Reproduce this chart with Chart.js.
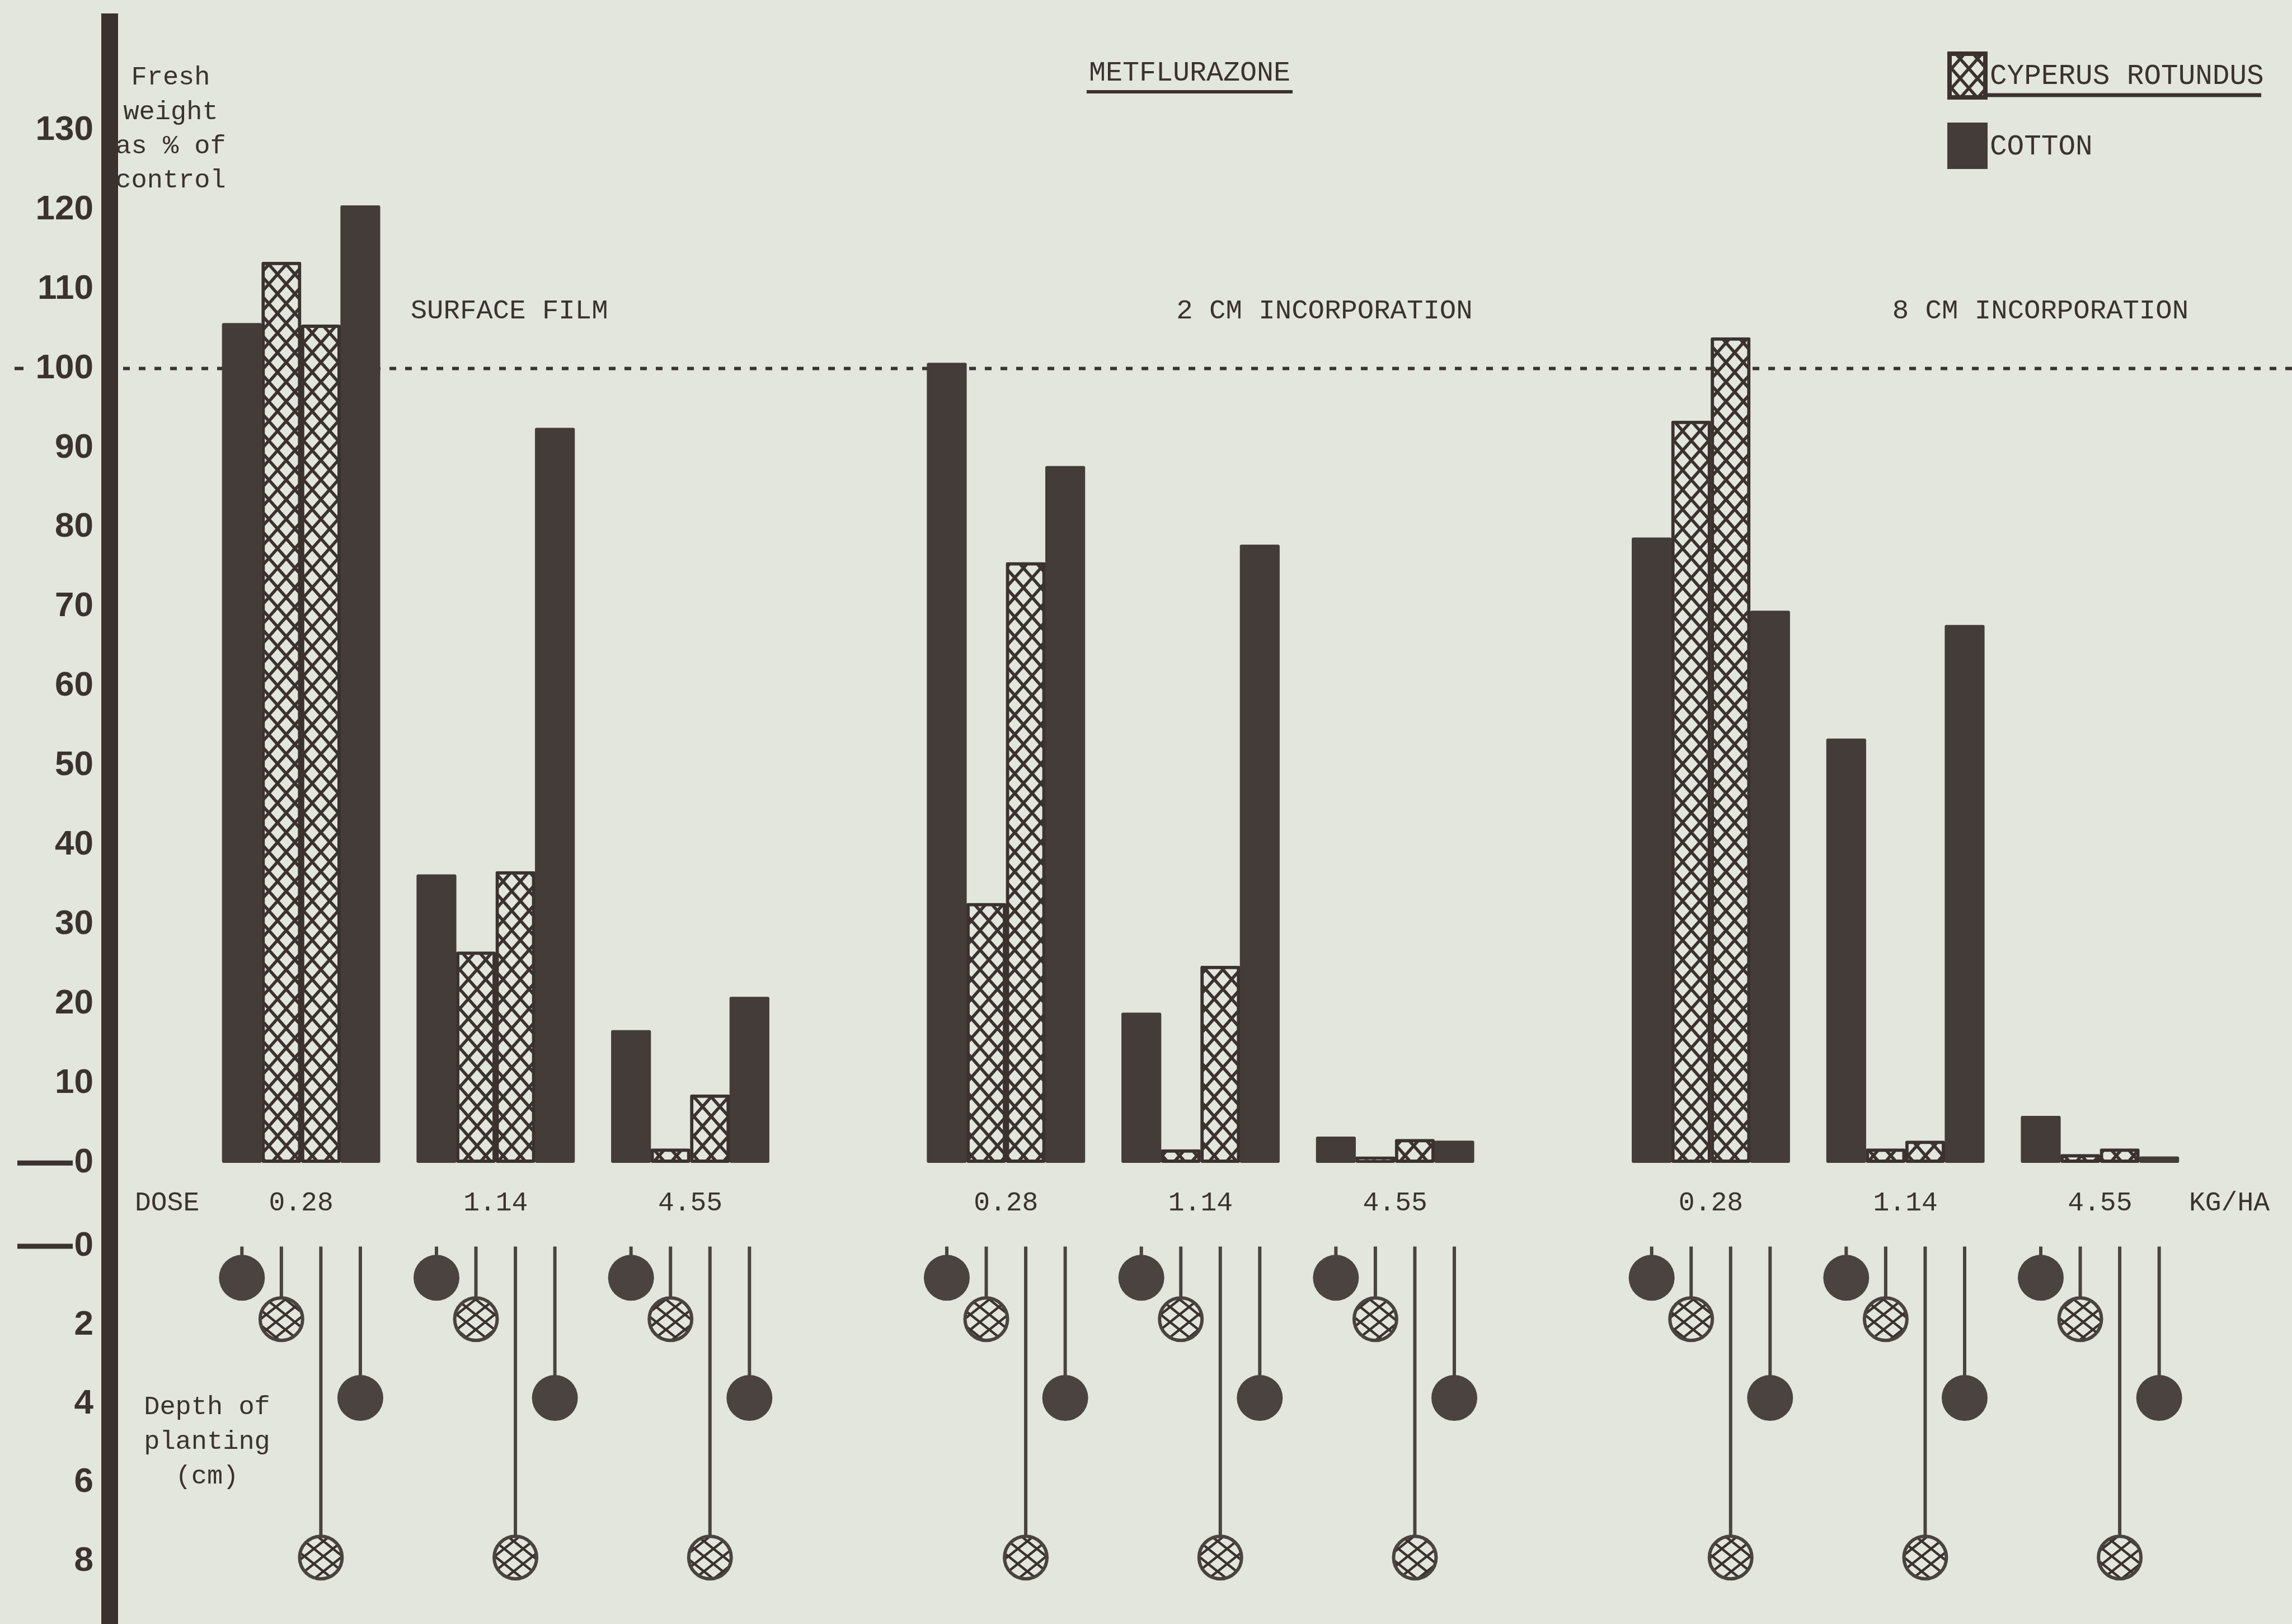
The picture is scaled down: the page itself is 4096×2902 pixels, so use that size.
<!DOCTYPE html>
<html><head><meta charset="utf-8">
<script src="https://cdn.jsdelivr.net/npm/chart.js@4.4.1/dist/chart.umd.min.js"></script>
<style>
html,body{margin:0;padding:0;background:#e2e6dc;overflow:hidden;}
canvas{display:block;}
</style></head><body>
<canvas id="c" width="4096" height="2902"></canvas>
<script>
// ---------------- data ----------------
const placements = ['SURFACE FILM', '2 CM INCORPORATION', '8 CM INCORPORATION'];
const doses = ['0.28', '1.14', '4.55'];          // kg/ha, repeated for each placement
const seriesNames = ['COTTON', 'CYPERUS ROTUNDUS', 'CYPERUS ROTUNDUS', 'COTTON'];
// fresh weight as % of control, 9 groups = 3 placements x 3 doses
const cottonShallow  = [105.7, 36.3, 16.7, 100.7, 18.9, 3.3, 78.7, 53.4, 5.9];
const cyperusShallow = [113.4, 26.6,  1.8,  32.7,  1.7, 0.8, 93.4,  1.8, 1.1];
const cyperusDeep    = [105.5, 36.7,  8.6,  75.6, 24.8, 3.0, 103.9, 2.8, 1.8];
const cottonDeep     = [120.5, 92.5, 20.9,  87.7, 77.8, 2.8, 69.5, 67.7, 0.8];
const plantingDepth  = [0.8, 1.85, 7.9, 3.85];   // cm, one per series
const weightTicks = [0, 10, 20, 30, 40, 50, 60, 70, 80, 90, 100, 110, 120, 130];
const depthTicks  = [0, 2, 4, 6, 8];
const controlLevel = 100;

// ---------------- style / layout ----------------
const PAPER = '#e2e6dc', INK = '#3b3230', DARK = '#443c38', STEM = '#4a4340';
const MONO = '"Liberation Mono", "DejaVu Sans Mono", monospace';
const PLACEMENT_STRIDE = 3.623, BAR_W = 0.2029;
const groupX = i => Math.floor(i / 3) * PLACEMENT_STRIDE + (i % 3);
const seriesOffset = k => (k - 1.5) * BAR_W;
const isCyperus = [false, true, true, false];
const barSeries = [cottonShallow, cyperusShallow, cyperusDeep, cottonDeep];
const panelLabelX = [1.07, 5.26, 8.94];
const titleX = 4.567;

const canvas = document.getElementById('c');
const ctx = canvas.getContext('2d');
function makeHatch(W, H, lw) {
  const t = document.createElement('canvas'); t.width = W; t.height = H;
  const g = t.getContext('2d');
  g.fillStyle = PAPER; g.fillRect(0, 0, W, H);
  g.strokeStyle = INK; g.lineWidth = lw;
  for (const dx of [-W, 0, W]) for (const dy of [-H, 0, H]) {
    g.beginPath();
    g.moveTo(dx, dy); g.lineTo(dx + W, dy + H);
    g.moveTo(dx + W, dy); g.lineTo(dx, dy + H);
    g.stroke();
  }
  return ctx.createPattern(t, 'repeat');
}
const barHatch = makeHatch(31, 35, 5.5);
const ballHatch = makeHatch(34, 27, 4.5);

const datasets = [];
barSeries.forEach((vals, k) => {
  datasets.push({
    type: 'bar', label: seriesNames[k],
    data: vals.map((v, i) => ({ x: groupX(i) + seriesOffset(k), y: v })),
    xAxisID: 'x', yAxisID: 'y', grouped: false,
    barPercentage: 1, categoryPercentage: 1,
    backgroundColor: isCyperus[k] ? barHatch : DARK,
    borderColor: INK, borderWidth: isCyperus[k] ? 6 : 0,
    borderSkipped: false, borderRadius: 3, order: 0
  });
});
// stems of the planting-depth markers
datasets.push({
  type: 'bar', label: 'stems',
  data: barSeries.flatMap((vals, k) => vals.map((_, i) => ({ x: groupX(i) + seriesOffset(k), y: [0, plantingDepth[k]] }))),
  xAxisID: 'x', yAxisID: 'yd', grouped: false, maxBarThickness: 6,
  backgroundColor: STEM, borderWidth: 0, order: 2
});
// balls
barSeries.forEach((vals, k) => {
  datasets.push({
    type: 'scatter', label: seriesNames[k] + ' depth',
    data: vals.map((_, i) => ({ x: groupX(i) + seriesOffset(k), y: plantingDepth[k] })),
    xAxisID: 'x', yAxisID: 'yd',
    pointStyle: 'circle',
    pointRadius: isCyperus[k] ? 38 : 41,
    backgroundColor: isCyperus[k] ? ballHatch : STEM,
    borderColor: STEM, borderWidth: isCyperus[k] ? 6 : 0,
    order: 1
  });
});

const decor = {
  id: 'decor',
  beforeDraw(chart) {
    const c = chart.ctx; c.save(); c.fillStyle = PAPER; c.fillRect(0, 0, chart.width, chart.height); c.restore();
  },
  beforeDatasetsDraw(chart) {
    const c = chart.ctx, a = chart.chartArea, yy = chart.scales.y.getPixelForValue(controlLevel);
    c.save(); c.strokeStyle = INK; c.lineWidth = 6;
    c.setLineDash([12, 16]);
    c.beginPath(); c.moveTo(a.left + 24, yy); c.lineTo(a.right, yy); c.stroke();
    c.setLineDash([]);
    c.beginPath(); c.moveTo(26, yy); c.lineTo(42, yy); c.stroke();
    c.restore();
  },
  afterDraw(chart) {
    const c = chart.ctx, sx = chart.scales.x;
    c.save();
    c.fillStyle = INK; c.strokeStyle = INK;
    c.textBaseline = 'middle';
    // zero dashes on both axes
    c.lineWidth = 9;
    [chart.scales.y.getPixelForValue(0), chart.scales.yd.getPixelForValue(0)].forEach(yy => {
      c.beginPath(); c.moveTo(31, yy); c.lineTo(130, yy); c.stroke();
    });
    // axis titles
    c.font = '47px ' + MONO; c.textAlign = 'center';
    ['Fresh', 'weight', 'as % of', 'control'].forEach((t, i) => c.fillText(t, 305, 139 + i * 61.3));
    ['Depth of', 'planting', '(cm)'].forEach((t, i) => c.fillText(t, 370, 2515 + i * 62));
    // title
    c.font = '50px ' + MONO;
    const tx = sx.getPixelForValue(titleX);
    c.fillText('METFLURAZONE', tx, 131);
    const tw = c.measureText('METFLURAZONE').width;
    c.lineWidth = 6; c.beginPath(); c.moveTo(tx - tw / 2 - 4, 164); c.lineTo(tx + tw / 2 + 4, 164); c.stroke();
    // panel labels
    c.font = '49px ' + MONO;
    placements.forEach((t, p) => c.fillText(t, sx.getPixelForValue(panelLabelX[p]), 556));
    // dose row
    c.font = '48px ' + MONO; c.textAlign = 'left';
    c.fillText('DOSE', 241, 2150);
    c.fillText('KG/HA', 3912, 2150);
    // legend
    const items = [{ ds: chart.data.datasets[1], top: 92, h: 86, ty: 136 }, { ds: chart.data.datasets[0], top: 219, h: 83, ty: 262 }];
    items.forEach(it => {
      c.fillStyle = it.ds.backgroundColor;
      c.fillRect(3480, it.top, 72, it.h);
      if (it.ds.borderWidth) { c.lineWidth = 8; c.strokeStyle = INK; c.strokeRect(3484, it.top + 4, 64, it.h - 8); }
      c.fillStyle = INK; c.font = '51px ' + MONO; c.textAlign = 'left';
      c.fillText(it.ds.label, 3556, it.ty);
    });
    c.lineWidth = 7; c.strokeStyle = INK;
    c.beginPath(); c.moveTo(3552, 170); c.lineTo(4041, 170); c.stroke();
    c.restore();
  }
};

const tickFont = { family: '"Liberation Sans", Arial, sans-serif', weight: 'bold', size: 62 };
new Chart(canvas, {
  type: 'bar',
  data: { datasets },
  plugins: [decor],
  options: {
    responsive: false, animation: false, devicePixelRatio: 1, events: [],
    layout: { autoPadding: false, padding: { top: 39, left: 0, right: 0, bottom: 0 } },
    plugins: { legend: { display: false }, tooltip: { enabled: false } },
    scales: {
      x: {
        type: 'linear', min: -0.984, max: 10.233, offset: false, position: { y: 0 },
        afterBuildTicks: s => { s.ticks = barSeries[0].map((_, i) => ({ value: groupX(i) })); },
        afterFit: s => { s.height = 0; s.paddingLeft = 0; s.paddingRight = 0; },
        grid: { display: false, drawTicks: false }, border: { display: false },
        ticks: { autoSkip: false, maxRotation: 0, minRotation: 0, padding: 43, color: INK,
                 font: { family: MONO, size: 48 }, callback: (v, i) => doses[i % 3] }
      },
      yd: {
        type: 'linear', position: 'left', stack: 'v', stackWeight: 752.8, weight: 0,
        reverse: true, min: -1.105, max: 9.588, bounds: 'data',
        afterBuildTicks: s => { s.ticks = depthTicks.map(v => ({ value: v })); },
        afterFit: s => { s.width = 196; s.paddingTop = 0; s.paddingBottom = 0; },
        grid: { display: true, drawOnChartArea: false, drawTicks: true, tickLength: 10, tickWidth: 5, tickColor: INK },
        border: { display: true, width: 30, color: INK },
        ticks: { font: tickFont, color: INK, padding: 19, callback: v => String(v) }
      },
      y: {
        type: 'linear', position: 'left', stack: 'v', stackWeight: 2110.2, weight: 1,
        min: -5, max: 143.63, bounds: 'data',
        afterBuildTicks: s => { s.ticks = weightTicks.map(v => ({ value: v })); },
        afterFit: s => { s.width = 196; s.paddingTop = 0; s.paddingBottom = 0; },
        grid: { display: true, drawOnChartArea: false, drawTicks: true, tickLength: 10, tickWidth: 5, tickColor: INK },
        border: { display: true, width: 30, color: INK },
        ticks: { font: tickFont, color: INK, padding: 19, callback: v => String(v) }
      }
    }
  }
});
</script>
</body></html>
